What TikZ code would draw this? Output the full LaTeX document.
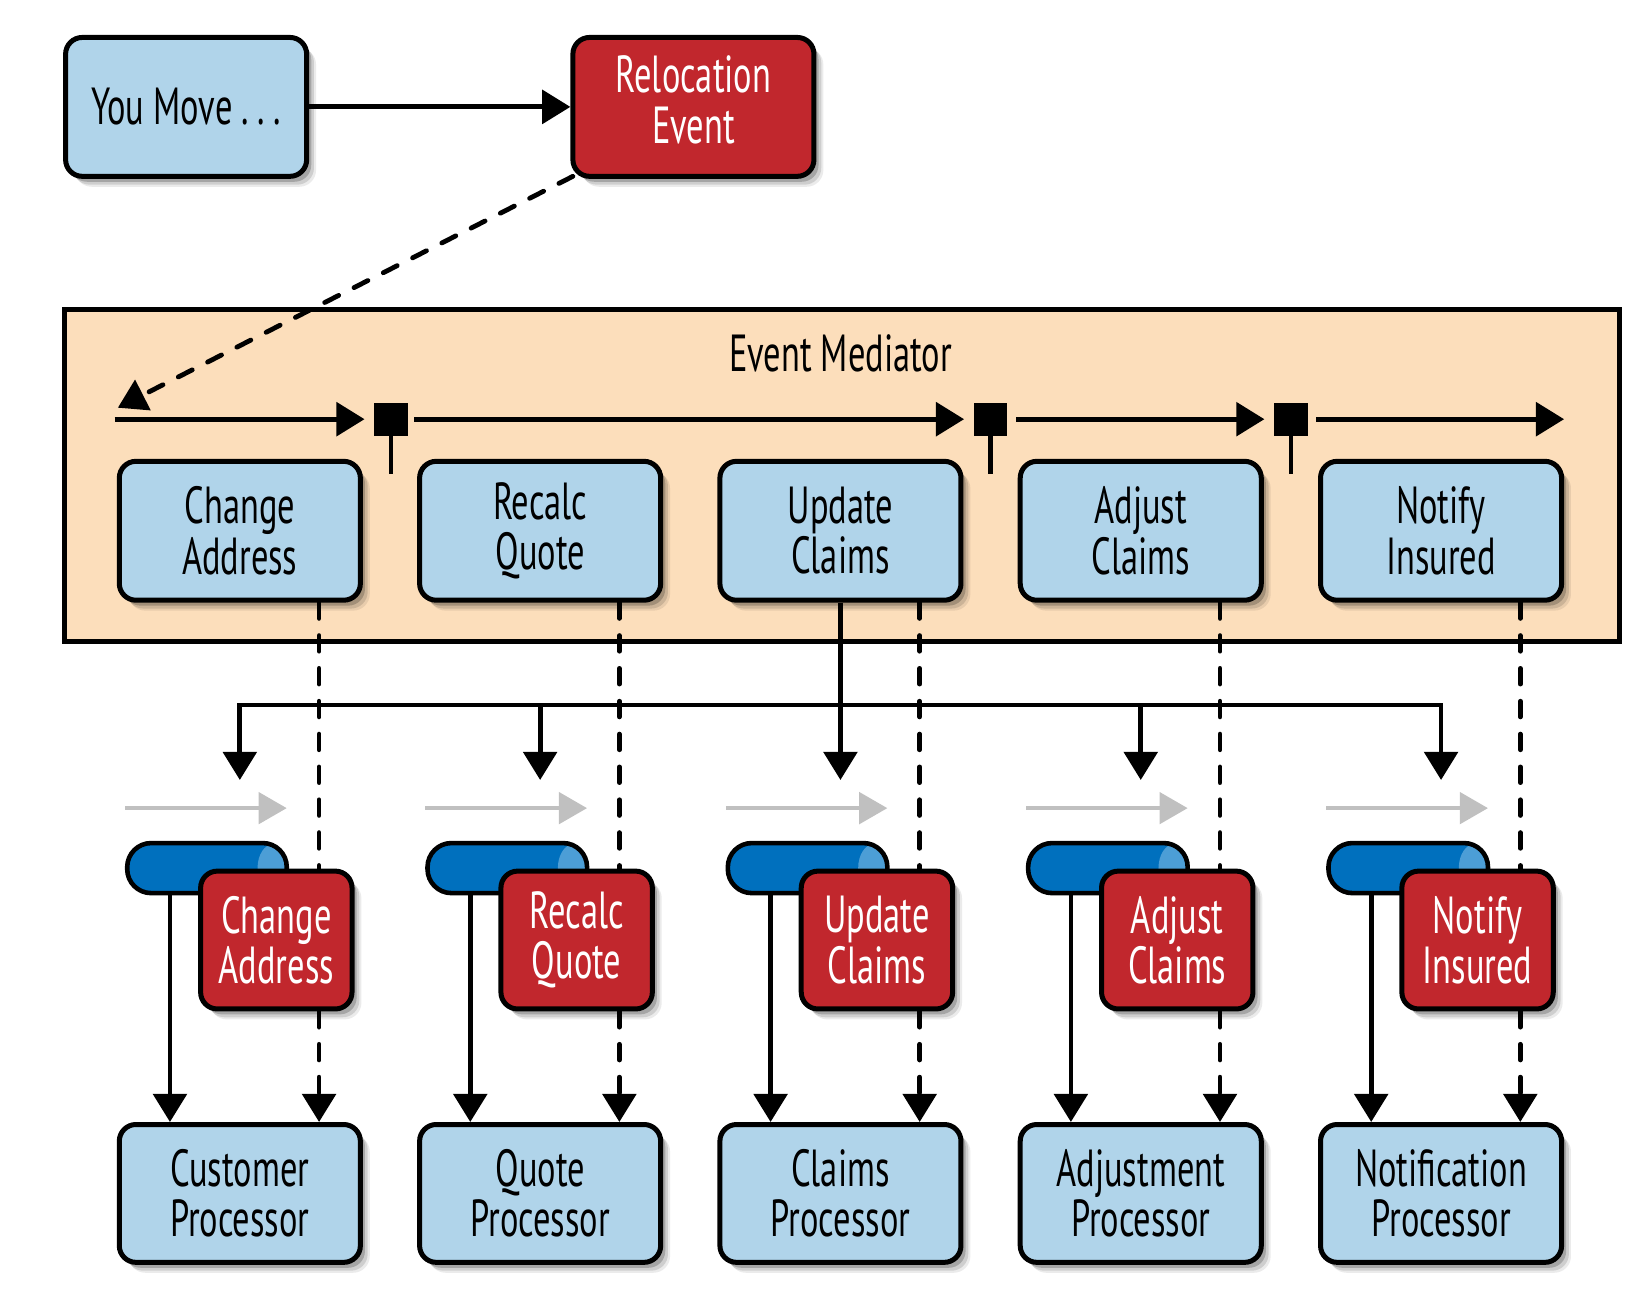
\documentclass[tikz,border=0pt]{standalone}
\usepackage{fontspec}
\setmainfont{PT Sans}[FakeStretch=0.66]
\usetikzlibrary{arrows.meta,shadows}
\definecolor{lblue}{HTML}{B0D4EA}
\definecolor{evred}{HTML}{C1272D}
\definecolor{peach}{HTML}{FCDEBB}
\definecolor{qblue}{HTML}{0070BE}
\definecolor{qhi}{HTML}{4C9ED6}
\definecolor{arrgray}{HTML}{C0C0C0}
\tikzset{
  softshadow/.style={
    drop shadow={shadow xshift=4.5pt, shadow yshift=-5pt, opacity=.08, fill=black},
    drop shadow={shadow xshift=3.5pt, shadow yshift=-4pt, opacity=.12, fill=black},
    drop shadow={shadow xshift=2.2pt, shadow yshift=-2.6pt, opacity=.2, fill=black}},
  box/.style={draw=black, line width=2.4pt, rounded corners=8pt, align=center,
    inner sep=0pt, font=\fontsize{25}{24}\selectfont, softshadow},
  bluebox/.style={box, fill=lblue, text=black, minimum width=115.6pt, minimum height=66.6pt},
  redbox/.style={box, fill=evred, text=white, minimum width=72.6pt, minimum height=66.1pt},
  tube/.style={draw=black, line width=2.2pt, fill=qblue, rounded corners=11.5pt,
    minimum width=76.5pt, minimum height=24pt, inner sep=0pt,
    path picture={\fill[qhi] ([xshift=-6.5pt]path picture bounding box.east) ellipse [x radius=7.5pt, y radius=11.5pt];}},
  stopsq/.style={fill=black, minimum size=16pt, inner sep=0pt},
  tip/.style={-{Triangle[width=16pt,length=13.5pt]}},
  conn/.style={line width=2.3pt, tip},
  dsh/.style={dash pattern=on 7.5pt off 8.25pt, line cap=round},
  grayarr/.style={draw=arrgray, line width=2pt, -{Triangle[width=15pt,length=13.5pt]}},
  ttl/.style={font=\fontsize{25}{24}\selectfont, inner sep=0pt}
}
\begin{document}
\begin{tikzpicture}[x=0.5pt,y=-0.5pt]
\useasboundingbox (0,0) rectangle (1568,1244);

% mediator background
\node[draw=black, fill=peach, line width=2.2pt, minimum width=745.5pt, minimum height=159pt, inner sep=0pt] (med) at (807.5,456) {};
\node[ttl, anchor=base] (medtitle) at (806,356) {Event Mediator};

% top boxes
\node[bluebox] (you) at (178.5,102.5) {You Move\ .\,.\,.};
\node[redbox, minimum width=115.6pt, minimum height=66.6pt] (reloc) at (665,102.5) {\raisebox{2.5pt}{\begin{tabular}{@{}c@{}}Relocation\\Event\end{tabular}}};

% step boxes
\node[bluebox] (s0) at (230,509) {Change\\Address};
\node[bluebox] (s1) at (518,509) {Recalc\\Quote};
\node[bluebox] (s2) at (806,509) {Update\\Claims};
\node[bluebox] (s3) at (1094,509) {Adjust\\Claims};
\node[bluebox] (s4) at (1382,509) {Notify\\Insured};

% stop squares
\node[stopsq] (q1) at (375,402) {};
\node[stopsq] (q2) at (950,402) {};
\node[stopsq] (q3) at (1238,402) {};
\coordinate (q1b) at (375,455);
\coordinate (q2b) at (950,455);
\coordinate (q3b) at (1238,455);
\coordinate (l0) at (110,402);
\coordinate (l4) at (1500,402);
\coordinate (tipA) at (113,391);

% queues, event boxes, processors
\foreach \i/\dx/\txt/\ptxt in {0/0/{Change\\Address}/{Customer\\Processor},
                             1/288/{Recalc\\Quote}/{Quote\\Processor},
                             2/576/{Update\\Claims}/{Claims\\Processor},
                             3/864/{Adjust\\Claims}/{Adjustment\\Processor},
                             4/1152/{Notify\\Insured}/{Notification\\Processor}}{
  \node[tube] (t\i) at (198.5+\dx,832.5) {};
  \node[redbox] (r\i) at (265+\dx,901.5) {\txt};
  \node[bluebox, minimum height=66.1pt] (p\i) at (230+\dx,1144.5) {\ptxt};
  \coordinate (gs\i) at (120+\dx,775);
  \coordinate (ge\i) at (275+\dx,775);
  \coordinate (dx\i) at (306+\dx,700);
}

% bus coordinates
\coordinate (b0) at (230,676);
\coordinate (b1) at (518,676);
\coordinate (b3) at (1094,676);
\coordinate (b4) at (1382,676);
\coordinate (a0) at (230,748);
\coordinate (a1) at (518,748);
\coordinate (a2) at (806,748);
\coordinate (a3) at (1094,748);
\coordinate (a4) at (1382,748);

% connectors
\draw[conn] (you) -- (reloc);
\draw[conn, dsh] ([shift={(1.2pt,1.2pt)}]reloc.south west) -- (tipA);
\draw[conn, shorten >=4.5pt] (l0) -- (q1.west);
\draw[conn, shorten <=3pt, shorten >=4.5pt] (q1.east) -- (q2.west);
\draw[conn, shorten <=4pt, shorten >=4.5pt] (q2.east) -- (q3.west);
\draw[conn, shorten <=4pt] (q3.east) -- (l4);
\draw[line width=2.3pt] (q1) -- (q1b);
\draw[line width=2.3pt] (q2) -- (q2b);
\draw[line width=2.3pt] (q3) -- (q3b);
\draw[line width=2.3pt, {Triangle[width=16pt,length=13.5pt]}-{Triangle[width=16pt,length=13.5pt]}] (a0) -- (b0) -- (b4) -- (a4);
\draw[conn] (b1) -- (a1);
\draw[conn] (b3) -- (a3);
\draw[conn] (s2.south) -- (a2);
\foreach \i in {0,...,4}{
  \draw[grayarr] (gs\i) -- (ge\i);
  \draw[line width=2.3pt, dsh] (s\i.south -| dx\i) -- (r\i.north -| dx\i);
  \draw[conn, dsh] (r\i.south -| dx\i) -- (p\i.north -| dx\i);
  \draw[conn] ([xshift=-17.75pt]t\i.south) -- ([xshift=-33.5pt]p\i.north);
}
\end{tikzpicture}
\end{document}
